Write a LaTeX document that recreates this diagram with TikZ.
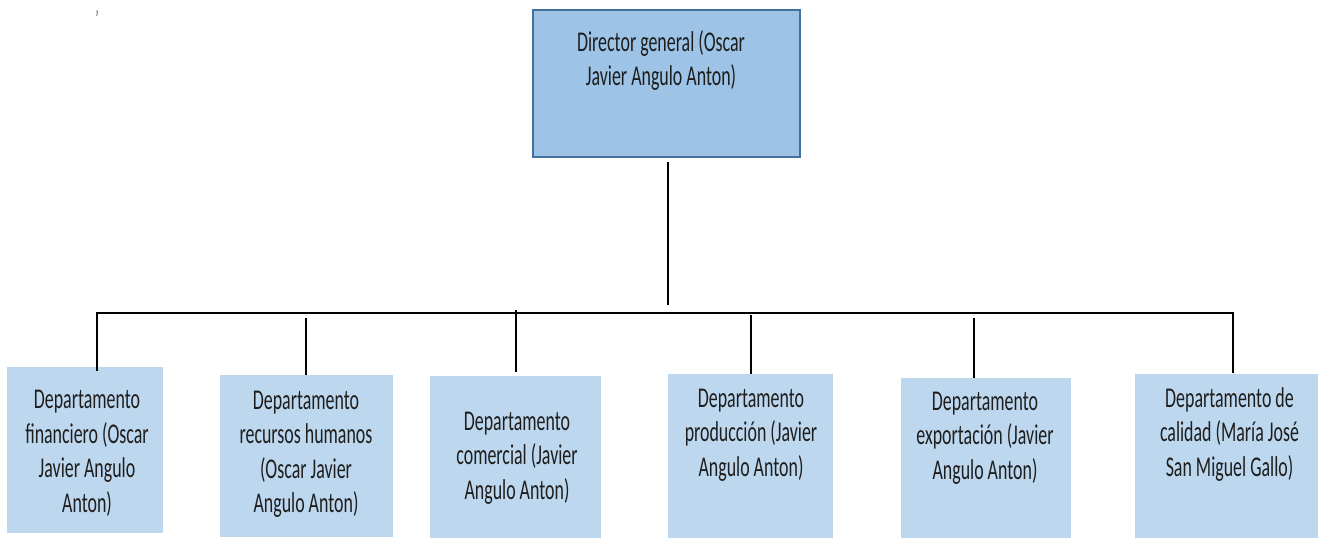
\documentclass[tikz,border=0pt]{standalone}
\usepackage{fontspec}
\setmainfont{Carlito}
\usepackage{graphicx}
\definecolor{topfill}{RGB}{157,195,230}
\definecolor{topborder}{RGB}{65,113,156}
\definecolor{deptfill}{RGB}{189,215,238}
\definecolor{txt}{RGB}{30,30,30}
\newcommand{\boxtext}[1]{\scalebox{1}[1.6]{\fontsize{17.9}{21.6}\selectfont\begin{tabular}{@{}c@{}}#1\end{tabular}}}
\begin{document}
\begin{tikzpicture}[x=1pt,y=-1pt,
  topbox/.style={draw=topborder, line width=1.2pt, fill=topfill, inner sep=0pt, minimum width=267pt, minimum height=147pt},
  dept/.style={fill=deptfill, inner sep=0pt},
  lbl/.style={inner sep=0pt, text=txt},
  conn/.style={draw=black, line width=1.1pt},
  bus/.style={draw=black, line width=1.8pt}]
\useasboundingbox (0,0) rectangle (1330,538);
\fill[white] (0,0) rectangle (1330,538);
% top box
\node[topbox] (dir) at (666.5,83.5) {};
\node[lbl] (tdir) at (661,61.5) {\boxtext{Director general (Oscar\\Javier Angulo Anton)}};
% departments
\node[dept, minimum width=156pt, minimum height=166pt] (d1) at (85,450) {};
\node[dept, minimum width=173pt, minimum height=162pt] (d2) at (306.5,456) {};
\node[dept, minimum width=171pt, minimum height=162pt] (d3) at (515.5,457) {};
\node[dept, minimum width=165pt, minimum height=164pt] (d4) at (750.5,456) {};
\node[dept, minimum width=170pt, minimum height=160pt] (d5) at (986,458) {};
\node[dept, minimum width=183pt, minimum height=164pt] (d6) at (1226.5,456) {};
\node[lbl] (t1) at (87,453.5) {\boxtext{Departamento\\financiero (Oscar\\Javier Angulo\\Anton)}};
\node[lbl] (t2) at (306,454) {\boxtext{Departamento\\recursos humanos\\(Oscar Javier\\Angulo Anton)}};
\node[lbl] (t3) at (517,458) {\boxtext{Departamento\\comercial (Javier\\Angulo Anton)}};
\node[lbl] (t4) at (751,435) {\boxtext{Departamento\\producción (Javier\\Angulo Anton)}};
\node[lbl] (t5) at (985,438) {\boxtext{Departamento\\exportación (Javier\\Angulo Anton)}};
\node[lbl] (t6) at (1229.5,435) {\boxtext{Departamento de\\calidad (María José\\San Miguel Gallo)}};
% stray mark
\node[inner sep=0pt, text=black!60, font=\fontsize{14}{14}\selectfont] (mark) at (97,19) {\scalebox{1}[1.6]{'}};
% connectors
\coordinate (vtop) at (668,162);
\coordinate (vbot) at (668,305);
\coordinate (busL) at (96,313);
\coordinate (busR) at (1234,313);
\coordinate (c1) at (97,313);
\coordinate (c2) at (306,318);
\coordinate (c3) at (516,310);
\coordinate (c4) at (751,315);
\coordinate (c5) at (974,318);
\coordinate (c6) at (1233,313);
\draw[conn] (vtop) -- (vbot);
\draw[bus] (busL) -- (busR);
\draw[conn] (c1) -- (c1 |- d1.north) -- ++(0,4);
\draw[conn] (c2) -- (c2 |- d2.north);
\draw[conn] (c3) -- ([yshift=4pt]c3 |- d3.north);
\draw[conn] (c4) -- (c4 |- d4.north);
\draw[conn] (c5) -- (c5 |- d5.north);
\draw[conn] (c6) -- ([yshift=1pt]c6 |- d6.north);
\end{tikzpicture}
\end{document}
